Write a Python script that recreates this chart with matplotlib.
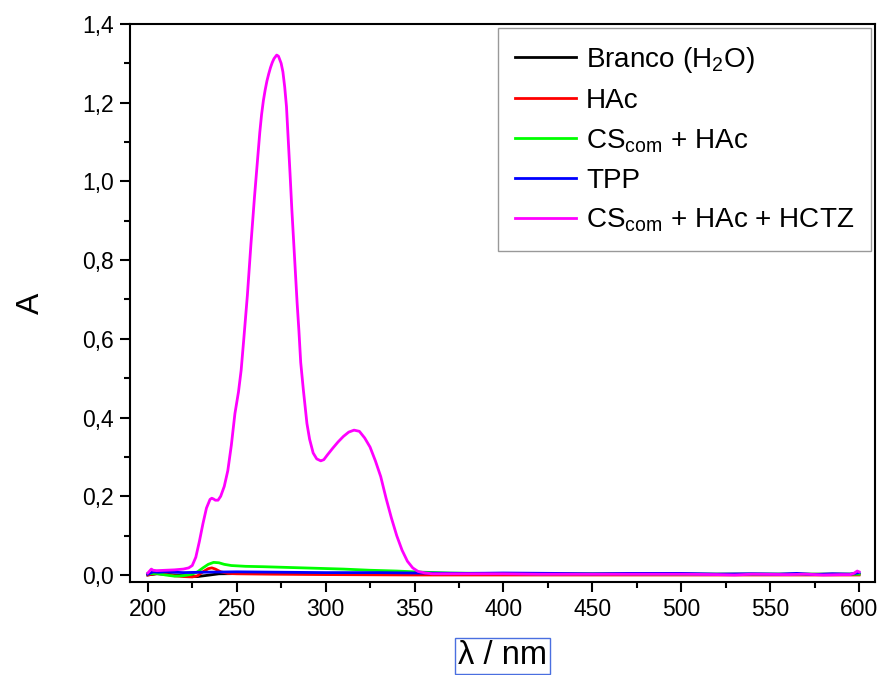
import matplotlib
matplotlib.use("Agg")
import matplotlib.pyplot as plt
from matplotlib.ticker import MultipleLocator, FuncFormatter

plt.rcParams["font.family"] = ["Liberation Sans", "DejaVu Sans"]
plt.rcParams["mathtext.fontset"] = "custom"
plt.rcParams["mathtext.rm"] = "Liberation Sans"
plt.rcParams["mathtext.it"] = "Liberation Sans:italic"

# UV-Vis spectra: wavelength (nm) and absorbance
wl_branco = [200, 205, 210, 220, 228, 235, 240, 260, 300, 350, 400, 450, 500, 550, 600]
a_branco = [0.000, 0.003, 0.002, -0.002, -0.004, 0.000, 0.003, 0.004, 0.003, 0.003,
            0.002, 0.002, 0.002, 0.002, 0.002]

wl_hac = [200, 205, 210, 215, 220, 225, 228, 231, 234, 236, 238, 241, 245, 250, 270,
          300, 350, 400, 450, 500, 550, 600]
a_hac = [0.000, 0.004, 0.002, -0.002, -0.004, -0.005, -0.002, 0.008, 0.016, 0.018,
         0.015, 0.008, 0.004, 0.003, 0.002, 0.001, 0.000, 0.000, 0.000, 0.000, 0.000, 0.000]

wl_cs = [200, 205, 210, 215, 220, 225, 228, 231, 234, 237, 240, 243, 247, 255, 265,
         280, 295, 310, 325, 340, 355, 370, 390, 420, 460, 500, 540, 580, 600]
a_cs = [0.003, 0.004, 0.000, -0.003, -0.002, 0.002, 0.008, 0.018, 0.027, 0.032, 0.031,
        0.027, 0.024, 0.022, 0.021, 0.019, 0.017, 0.015, 0.012, 0.010, 0.007, 0.005,
        0.004, 0.003, 0.003, 0.002, 0.002, 0.002, 0.002]

wl_tpp = [200, 203, 206, 210, 220, 230, 250, 275, 300, 330, 350, 380, 400, 430, 450,
          470, 500, 520, 540, 555, 565, 575, 585, 595, 600]
a_tpp = [0.002, 0.008, 0.007, 0.008, 0.006, 0.007, 0.008, 0.007, 0.006, 0.006, 0.005,
         0.004, 0.005, 0.004, 0.003, 0.004, 0.004, 0.002, 0.003, 0.002, 0.004, 0.001,
         0.003, 0.002, 0.006]

wl_hctz = [200, 202, 203, 205, 210, 215, 220, 223, 225, 227, 229, 231, 233, 235, 236,
           237, 238, 239.5, 241, 243, 245, 247, 249, 251, 252.5, 254, 256, 258, 260,
           262, 263, 264, 265, 266, 267, 268, 269, 270, 271, 272.5, 273.5, 275, 276,
           277, 278, 279, 280, 281, 282, 283, 284, 285, 286, 287.5, 289.5, 291, 293,
           295, 297.3, 299, 301, 304, 307, 310, 313, 316, 319, 322, 325, 328, 331, 334,
           337, 340, 343, 346, 349, 352, 356, 360, 380, 400, 420, 440, 460, 480, 500,
           520, 530, 540, 560, 570, 580, 590, 595, 597, 599, 600]
a_hctz = [0.005, 0.015, 0.012, 0.011, 0.012, 0.013, 0.015, 0.018, 0.024, 0.045, 0.085,
          0.130, 0.170, 0.192, 0.195, 0.193, 0.190, 0.190, 0.200, 0.225, 0.265, 0.330,
          0.410, 0.465, 0.520, 0.600, 0.710, 0.840, 0.960, 1.070, 1.125, 1.170, 1.205,
          1.232, 1.255, 1.273, 1.289, 1.302, 1.312, 1.321, 1.318, 1.300, 1.278, 1.240,
          1.190, 1.105, 1.020, 0.930, 0.850, 0.770, 0.690, 0.620, 0.540, 0.470, 0.385,
          0.345, 0.310, 0.295, 0.290, 0.293, 0.305, 0.322, 0.338, 0.352, 0.363, 0.368,
          0.365, 0.348, 0.325, 0.290, 0.250, 0.195, 0.145, 0.100, 0.063, 0.035, 0.018,
          0.009, 0.005, 0.003, 0.003, 0.003, 0.002, 0.002, 0.002, 0.002, 0.002, 0.001,
          0.000, 0.002, 0.001, 0.002, 0.000, 0.001, 0.001, 0.004, 0.010, 0.008]

series = [
    (wl_branco, a_branco, "black", "Branco (H$_2$O)"),
    (wl_hac, a_hac, "#ff0000", "HAc"),
    (wl_cs, a_cs, "#00ff00", "CS$_{\\mathrm{com}}$ + HAc"),
    (wl_tpp, a_tpp, "#0000ff", "TPP"),
    (wl_hctz, a_hctz, "#ff00ff", "CS$_{\\mathrm{com}}$ + HAc + HCTZ"),
]

fig = plt.figure(figsize=(8.82, 6.75), dpi=100)
ax = fig.add_axes([0.1474, 0.1378, 0.8447, 0.8267])

for x, y, c, lab in series:
    ax.plot(x, y, color=c, lw=2.0, label=lab, solid_joinstyle="round")

ax.set_xlim(190, 609)
ax.set_ylim(-0.0178, 1.4)

ax.xaxis.set_major_locator(MultipleLocator(50))
ax.xaxis.set_minor_locator(MultipleLocator(25))
ax.yaxis.set_major_locator(MultipleLocator(0.2))
ax.yaxis.set_minor_locator(MultipleLocator(0.1))
ax.yaxis.set_major_formatter(FuncFormatter(lambda v, p: f"{v:.1f}".replace(".", ",")))
ax.xaxis.set_major_formatter(FuncFormatter(lambda v, p: f"{v:.0f}"))

ax.tick_params(which="both", direction="out", top=False, right=False,
               labelsize=16.5, width=1.5, colors="black", pad=4.5)
ax.tick_params(which="major", length=7)
ax.tick_params(which="minor", length=4)
for s in ax.spines.values():
    s.set_linewidth(1.5)
    s.set_color("black")

ax.set_ylabel("A", fontsize=23, labelpad=26)
ax.set_xlabel("λ / nm", fontsize=23.5, labelpad=14,
              bbox=dict(boxstyle="square,pad=0.08", facecolor="none",
                        edgecolor="#4a6fe0", linewidth=1))

leg = ax.legend(loc="upper right", fontsize=20.1, frameon=True, fancybox=False,
                edgecolor="#808080", handlelength=2.2, handletextpad=0.34,
                borderaxespad=0.15, labelspacing=0.47, borderpad=0.6)
leg.get_frame().set_linewidth(1.0)
for line in leg.get_lines():
    line.set_linewidth(2.0)

fig.savefig("out.png", dpi=100)
